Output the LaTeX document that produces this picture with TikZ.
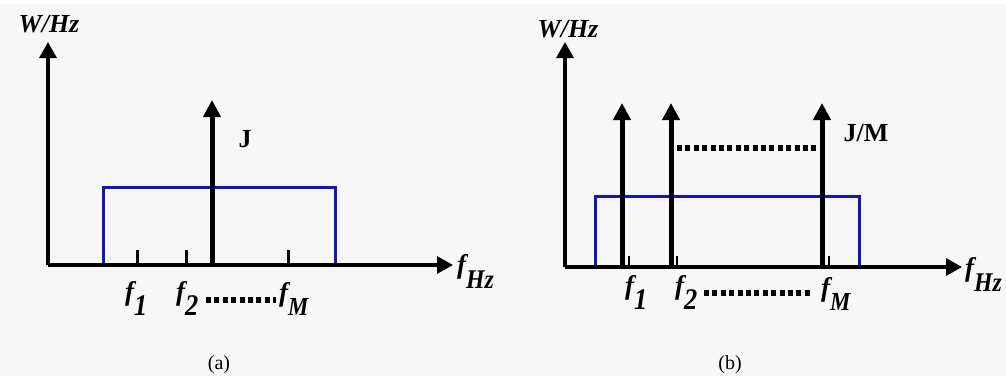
\documentclass[tikz,border=0pt]{standalone}
\usepackage{fontspec}
\setmainfont{Liberation Serif}
\newfontfamily\narrowfont[FakeStretch=0.88]{Liberation Serif}
\usetikzlibrary{arrows.meta}
\definecolor{bgc}{HTML}{F7F7F7}
\definecolor{bluec}{HTML}{1515B0}
\newcommand\fsub[3]{{\fontsize{27}{27}\selectfont\bfseries\itshape f}\raisebox{#2}{\narrowfont\fontsize{#3}{#3}\selectfont\bfseries\itshape #1}}
\tikzset{
  axis/.style={line width=3.2pt,-{Triangle[width=17pt,length=16pt]}},
  spike/.style={line width=5pt,-{Triangle[width=17pt,length=17pt]}},
  band/.style={line width=3pt,draw=bluec},
  tickA/.style={line width=3pt},
  tickB/.style={line width=2.2pt},
  dots/.style={line width=5.5pt,dash pattern=on 5pt off 3.4pt},
  ylab/.style={font=\fontsize{26}{26}\selectfont\bfseries\itshape},
  jlab/.style={font=\fontsize{26}{26}\selectfont\bfseries},
  flab/.style={anchor=base west,inner sep=0pt},
  captext/.style={font=\fontsize{20}{20}\selectfont}
}
\begin{document}
\begin{tikzpicture}[x=1pt,y=-1pt]
\useasboundingbox (0,0) rectangle (1006,376);
\fill[bgc] (0,4) rectangle (1006,376);
% ---------- panel (a)
\coordinate (oa) at (48,265);
\coordinate (ya) at (48,42);
\coordinate (xa) at (453,265);
\coordinate (ba1) at (103,265);
\coordinate (ba2) at (103,187);
\coordinate (ba3) at (335,187);
\coordinate (ba4) at (335,265);
\coordinate (ja0) at (212,266);
\coordinate (ja1) at (212,100);
\foreach \n/\x in {1/137,2/186,M/288}{
  \coordinate (ta\n) at (\x,266);
  \coordinate (tta\n) at (\x,250);
}
\coordinate (da1) at (206,300);
\coordinate (da2) at (276,300);
\draw[band] (ba1) -- (ba2) -- (ba3) -- (ba4);
\draw[axis] (oa) -- (ya);
\draw[axis] (oa) -- (xa);
\foreach \n in {1,2,M}{\draw[tickA] (ta\n) -- (tta\n);}
\draw[spike] (ja0) -- (ja1);
\draw[dots] (da1) -- (da2);
\node[ylab] (wa) at (49,24) {W/Hz};
\node[jlab] (jla) at (245,139) {J};
\node[flab] (fa1) at (125,300) {\fsub{1}{-15pt}{30}};
\node[flab] (fa2) at (176,300) {\fsub{2}{-15pt}{30}};
\node[flab] (faM) at (279,301) {\fsub{M}{-14pt}{26}};
\node[flab] (fha) at (457,273) {\fsub{Hz}{-15pt}{27}};
\node[captext] (capa) at (219,365) {(a)};
% ---------- panel (b)
\coordinate (ob) at (565,267);
\coordinate (yb) at (565,42);
\coordinate (xb) at (962,267);
\coordinate (bb1) at (595,267);
\coordinate (bb2) at (595,196);
\coordinate (bb3) at (859,196);
\coordinate (bb4) at (859,267);
\foreach \n/\x/\t in {1/622/629,2/671/677,M/822/829}{
  \coordinate (sb\n) at (\x,268);
  \coordinate (sbt\n) at (\x,103);
  \coordinate (tb\n) at (\t,268);
  \coordinate (ttb\n) at (\t,256);
}
\coordinate (db1) at (677,148);
\coordinate (db2) at (818,148);
\coordinate (db3) at (704,293);
\coordinate (db4) at (813,293);
\draw[band] (bb1) -- (bb2) -- (bb3) -- (bb4);
\draw[axis] (ob) -- (yb);
\draw[axis] (ob) -- (xb);
\foreach \n in {1,2,M}{
  \draw[tickB] (tb\n) -- (ttb\n);
  \draw[spike] (sb\n) -- (sbt\n);
}
\draw[dots] (db1) -- (db2);
\draw[dots] (db3) -- (db4);
\node[ylab] (wb) at (568,29) {W/Hz};
\node[jlab] (jlb) at (866,133) {J/M};
\node[flab] (fb1) at (625,294) {\fsub{1}{-15pt}{30}};
\node[flab] (fb2) at (675,294) {\fsub{2}{-15pt}{30}};
\node[flab] (fbM) at (821,296) {\fsub{M}{-14pt}{26}};
\node[flab] (fhb) at (965,276) {\fsub{Hz}{-15pt}{27}};
\node[captext] (capb) at (730,365) {(b)};
\end{tikzpicture}
\end{document}
